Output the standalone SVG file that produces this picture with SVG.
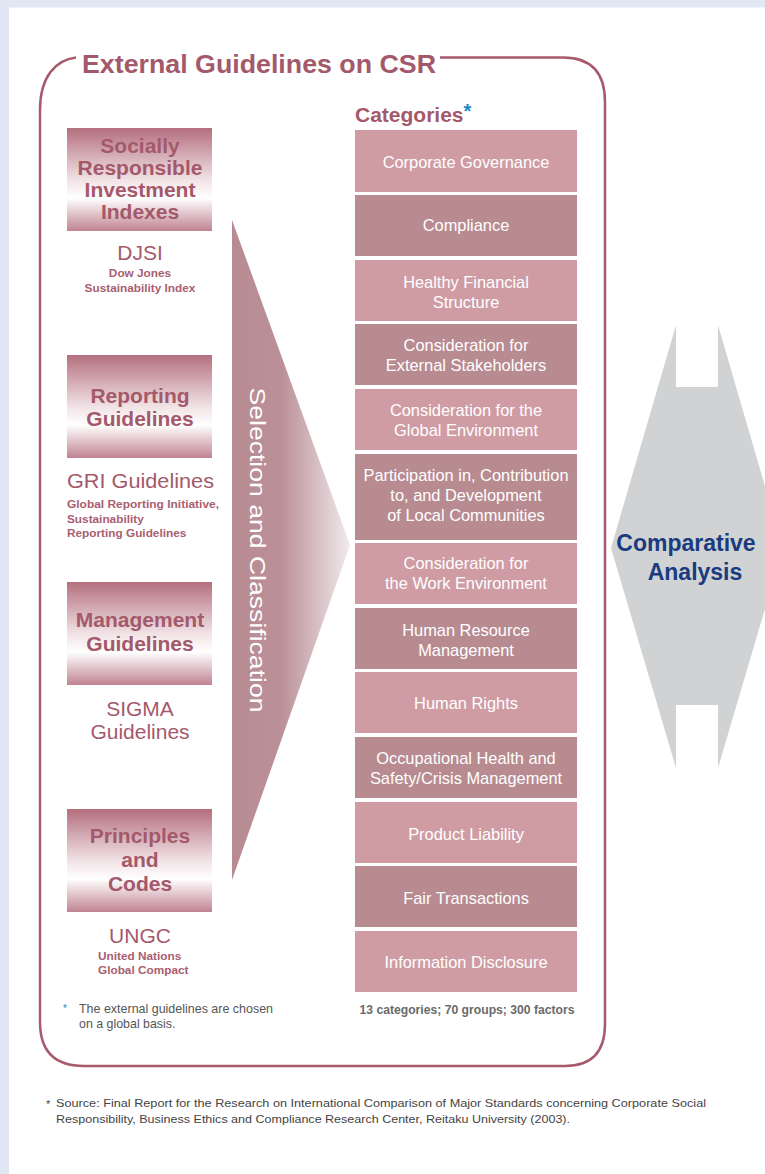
<svg xmlns="http://www.w3.org/2000/svg" width="765" height="1174" viewBox="0 0 765 1174">
<defs>
<linearGradient id="boxGrad" x1="0" y1="0" x2="0" y2="1">
<stop offset="0" stop-color="#b46f7e"/>
<stop offset="0.5" stop-color="#f1e2e5"/>
<stop offset="0.68" stop-color="#ffffff"/>
<stop offset="1" stop-color="#c08391"/>
</linearGradient>
<linearGradient id="arrowGrad" gradientUnits="userSpaceOnUse" x1="232" y1="0" x2="350" y2="0">
<stop offset="0" stop-color="#b88b92"/>
<stop offset="0.42" stop-color="#bb9098"/>
<stop offset="1" stop-color="#f1eaec"/>
</linearGradient>
<style>
.lbl{font-family:"Liberation Sans",Arial,sans-serif;}
.boxT{font-family:"Liberation Sans",Arial,sans-serif;font-weight:bold;font-size:21px;fill:#a4596b;text-anchor:middle;}
.big{font-family:"Liberation Sans",Arial,sans-serif;font-size:21px;fill:#a4596b;}
.sub{font-family:"Liberation Sans",Arial,sans-serif;font-size:11.8px;font-weight:bold;fill:#a95e70;}
.cat{font-family:"Liberation Sans",Arial,sans-serif;font-size:16.4px;fill:#ffffff;text-anchor:middle;}
.light{fill:#cf9ca4;}
.dark{fill:#b88b91;}
.note{font-family:"Liberation Sans",Arial,sans-serif;font-size:12.4px;fill:#555555;}
</style>
</defs>
<rect x="0" y="0" width="765" height="1174" fill="#e1e8f4"/>
<rect x="9" y="7.5" width="756" height="1166.5" fill="#ffffff"/>

<g id="frame">
<path d="M76,57.5 C56,60 40,76 40,110 L40,1022 Q40,1066 84,1066 L565,1066 Q605,1066 605,1024 L605,102 Q605,57.5 563,57.5 L440,57.5" fill="none" stroke="#a65a6c" stroke-width="2.5"/>
<text class="lbl" x="82" y="73" font-size="26" font-weight="bold" fill="#a4596b" textLength="354" lengthAdjust="spacingAndGlyphs">External Guidelines on CSR</text>
</g>

<g id="connectors">
<polygon points="232,220 350,545 232,880" fill="url(#arrowGrad)"/>
<text class="lbl" transform="translate(250,550) rotate(90)" x="0" y="0" font-size="22" fill="#ffffff" text-anchor="middle" textLength="325" lengthAdjust="spacingAndGlyphs">Selection and Classification</text>
</g>

<g id="node-sri">
<rect x="67" y="128" width="145" height="103" fill="url(#boxGrad)"/>
<text class="boxT" x="140" y="153">Socially</text>
<text class="boxT" x="140" y="175">Responsible</text>
<text class="boxT" x="140" y="197">Investment</text>
<text class="boxT" x="140" y="219">Indexes</text>
<text class="big" x="140" y="260" text-anchor="middle">DJSI</text>
<text class="sub" x="140" y="277" text-anchor="middle">Dow Jones</text>
<text class="sub" x="140" y="292" text-anchor="middle">Sustainability Index</text>
</g>

<g id="node-reporting">
<rect x="67" y="355" width="145" height="103" fill="url(#boxGrad)"/>
<text class="boxT" x="140" y="403">Reporting</text>
<text class="boxT" x="140" y="426">Guidelines</text>
<text class="big" x="67" y="488" textLength="147" lengthAdjust="spacingAndGlyphs">GRI Guidelines</text>
<text class="sub" x="67" y="508" textLength="152" lengthAdjust="spacingAndGlyphs">Global Reporting Initiative,</text>
<text class="sub" x="67" y="523">Sustainability</text>
<text class="sub" x="67" y="537">Reporting Guidelines</text>
</g>

<g id="node-management">
<rect x="67" y="582" width="145" height="103" fill="url(#boxGrad)"/>
<text class="boxT" x="140" y="627">Management</text>
<text class="boxT" x="140" y="651">Guidelines</text>
<text class="big" x="140" y="716" text-anchor="middle">SIGMA</text>
<text class="big" x="140" y="739" text-anchor="middle">Guidelines</text>
</g>

<g id="node-principles">
<rect x="67" y="809" width="145" height="103" fill="url(#boxGrad)"/>
<text class="boxT" x="140" y="843">Principles</text>
<text class="boxT" x="140" y="867">and</text>
<text class="boxT" x="140" y="891">Codes</text>
<text class="big" x="140" y="943" text-anchor="middle">UNGC</text>
<text class="sub" x="98" y="960">United Nations</text>
<text class="sub" x="98" y="974">Global Compact</text>
</g>

<g id="note-left">
<text class="lbl" x="63" y="1012" font-size="10" fill="#1a8ac4">*</text>
<text class="note" x="79" y="1013" textLength="194" lengthAdjust="spacingAndGlyphs">The external guidelines are chosen</text>
<text class="note" x="79" y="1028">on a global basis.</text>
</g>

<g id="categories">
<text class="lbl" x="355" y="122" font-size="21" font-weight="bold" fill="#a4596b">Categories<tspan font-size="20" fill="#1a8ac4" dy="-4">*</tspan></text>

<g id="cat-1"><rect class="light" x="355" y="130" width="222" height="62"/><text class="cat" x="466" y="168">Corporate Governance</text></g>
<g id="cat-2"><rect class="dark" x="355" y="195" width="222" height="61"/><text class="cat" x="466" y="231">Compliance</text></g>
<g id="cat-3"><rect class="light" x="355" y="260" width="222" height="61"/><text class="cat" x="466" y="288">Healthy Financial</text><text class="cat" x="466" y="308">Structure</text></g>
<g id="cat-4"><rect class="dark" x="355" y="324" width="222" height="61"/><text class="cat" x="466" y="351">Consideration for</text><text class="cat" x="466" y="371">External Stakeholders</text></g>
<g id="cat-5"><rect class="light" x="355" y="389" width="222" height="61"/><text class="cat" x="466" y="416">Consideration for the</text><text class="cat" x="466" y="436">Global Environment</text></g>
<g id="cat-6"><rect class="dark" x="355" y="454" width="222" height="86"/><text class="cat" x="466" y="481">Participation in, Contribution</text><text class="cat" x="466" y="501">to, and Development</text><text class="cat" x="466" y="521">of Local Communities</text></g>
<g id="cat-7"><rect class="light" x="355" y="543" width="222" height="61"/><text class="cat" x="466" y="569">Consideration for</text><text class="cat" x="466" y="589">the Work Environment</text></g>
<g id="cat-8"><rect class="dark" x="355" y="608" width="222" height="61"/><text class="cat" x="466" y="636">Human Resource</text><text class="cat" x="466" y="656">Management</text></g>
<g id="cat-9"><rect class="light" x="355" y="672" width="222" height="61"/><text class="cat" x="466" y="709">Human Rights</text></g>
<g id="cat-10"><rect class="dark" x="355" y="737" width="222" height="61"/><text class="cat" x="466" y="764">Occupational Health and</text><text class="cat" x="466" y="784">Safety/Crisis Management</text></g>
<g id="cat-11"><rect class="light" x="355" y="802" width="222" height="61"/><text class="cat" x="466" y="840">Product Liability</text></g>
<g id="cat-12"><rect class="dark" x="355" y="866" width="222" height="61"/><text class="cat" x="466" y="904">Fair Transactions</text></g>
<g id="cat-13"><rect class="light" x="355" y="931" width="222" height="61"/><text class="cat" x="466" y="968">Information Disclosure</text></g>

<text class="lbl" x="467" y="1014" font-size="12" font-weight="bold" text-anchor="middle" fill="#6a6a6a" textLength="215" lengthAdjust="spacingAndGlyphs">13 categories; 70 groups; 300 factors</text>
</g>

<g id="node-comparative">
<polygon points="676,325 676,387 718,387 718,325 783,548 718,768 718,705 676,705 676,768 611,548" fill="#d0d2d4"/>
<text class="lbl" x="686" y="551" font-size="23" font-weight="bold" fill="#193c7e" text-anchor="middle">Comparative</text>
<text class="lbl" x="695" y="580" font-size="23" font-weight="bold" fill="#193c7e" text-anchor="middle">Analysis</text>
</g>

<g id="source">
<text class="lbl" x="46" y="1108" font-size="11" fill="#444444">*</text>
<text class="lbl" x="56" y="1107" font-size="11.5" fill="#444444" textLength="650" lengthAdjust="spacingAndGlyphs">Source: Final Report for the Research on International Comparison of Major Standards concerning Corporate Social</text>
<text class="lbl" x="56" y="1123" font-size="11.5" fill="#444444" textLength="514" lengthAdjust="spacingAndGlyphs">Responsibility, Business Ethics and Compliance Research Center, Reitaku University (2003).</text>
</g>
</svg>
